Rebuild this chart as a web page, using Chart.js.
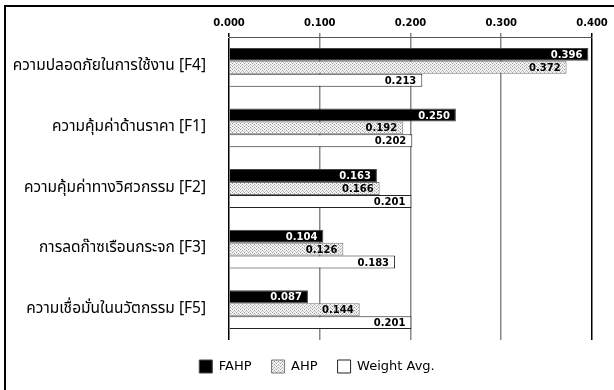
<!DOCTYPE html>
<html>
<head>
<meta charset="utf-8">
<script src="https://cdn.jsdelivr.net/npm/chart.js@4"></script>
<style>
  body { margin: 0; background: #fff; }
  #frame { position: absolute; left: 4px; top: 5px; width: 640px; height: 420px; border-left: 2px solid #000; border-top: 2px solid #000; }
  #wrap { position: absolute; left: 0; top: 0; width: 614px; height: 390px; }
</style>
</head>
<body>
<div id="frame"></div>
<div id="wrap"><canvas id="chart" width="614" height="390"></canvas></div>
<script>
const categories = ['ความปลอดภัยในการใช้งาน [F4]', 'ความคุ้มค่าด้านราคา [F1]', 'ความคุ้มค่าทางวิศวกรรม [F2]', 'การลดก๊าซเรือนกระจก [F3]', 'ความเชื่อมั่นในนวัตกรรม [F5]'];
const fahp = [0.396, 0.250, 0.163, 0.104, 0.087];
const ahp = [0.372, 0.192, 0.166, 0.126, 0.144];
const weightAvg = [0.213, 0.202, 0.201, 0.183, 0.201];
const xTicks = [0, 0.1, 0.2, 0.3, 0.4];

// dotted fill for AHP
const makeDots = function() {
    const c = document.createElement('canvas');
    c.width = 4; c.height = 3;
    const g = c.getContext('2d');
    g.fillStyle = '#f4f4f4';
    g.fillRect(0, 0, 4, 3);
    g.fillStyle = '#9a9a9a';
    g.fillRect(0, 0, 1, 1);
    g.fillRect(2, 1, 1, 1);
    g.fillStyle = '#c8c8c8';
    g.fillRect(1, 2, 1, 1);
    g.fillRect(3, 2, 1, 1);
    return document.getElementById('chart').getContext('2d').createPattern(c, 'repeat');
}
const dots = makeDots();

const labelColors = ['#fff', '#000', '#000'];

// value labels at bar end
const barLabels = {
    id: 'barLabels',
    afterDatasetsDraw(chart) {
        const ctx = chart.ctx;
        ctx.save();
        ctx.font = 'bold 10px "DejaVu Sans"';
        ctx.textAlign = 'right';
        ctx.textBaseline = 'middle';
        chart.data.datasets.forEach((ds, i) => {
            chart.getDatasetMeta(i).data.forEach((bar, j) => {
                ctx.fillStyle = labelColors[i];
                ctx.fillText(ds.data[j].toFixed(3), bar.x - 6, bar.y + 1);
            });
        });
        ctx.restore();
    }
};

// legend sits a bit right of centre in the original
const legendShift = {
    id: 'legendShift',
    afterLayout(chart) {
        chart.legend.left += 17;
        chart.legend.right += 17;
    }
};

new Chart(document.getElementById('chart'), {
    type: 'bar',
    data: {
        labels: categories,
        datasets: [
            { label: 'FAHP', data: fahp, backgroundColor: '#000', borderColor: '#444', borderWidth: 1 },
            { label: 'AHP', data: ahp, backgroundColor: dots, borderColor: '#777', borderWidth: 1 },
            { label: 'Weight Avg.', data: weightAvg, backgroundColor: '#fff', borderColor: '#222', borderWidth: 1 }
        ]
    },
    options: {
        indexAxis: 'y',
        animation: false,
        responsive: false,
        layout: { padding: { left: 8, right: 22, top: 13, bottom: 7 } },
        datasets: { bar: { categoryPercentage: 0.64, barPercentage: 1 } },
        scales: {
            x: {
                position: 'top',
                min: 0, max: 0.4,
                afterBuildTicks: axis => { axis.ticks = xTicks.map(v => ({ value: v })); },
                ticks: { callback: v => v.toFixed(3), color: '#000', font: { family: 'DejaVu Sans', size: 10, weight: 'bold' }, padding: 4 },
                grid: {
                    color: c => (c.tick && (c.tick.value === 0 || c.tick.value === 0.4)) ? '#000' : '#888',
                    lineWidth: 1.5,
                    tickLength: 4
                },
                border: { color: '#555', width: 1 }
            },
            y: {
                afterFit: axis => { axis.width = 221; },
                ticks: { color: '#000', font: { family: 'Noto Sans Thai, Noto Sans, sans-serif', size: 15.5 }, padding: 15 },
                grid: { display: false },
                border: { display: false }
            }
        },
        plugins: {
            legend: {
                position: 'bottom',
                labels: { color: '#000', font: { family: 'DejaVu Sans', size: 13 }, boxWidth: 13, boxHeight: 13, padding: 20 }
            },
            tooltip: { enabled: false }
        }
    },
    plugins: [barLabels, legendShift]
});
</script>
</body>
</html>
